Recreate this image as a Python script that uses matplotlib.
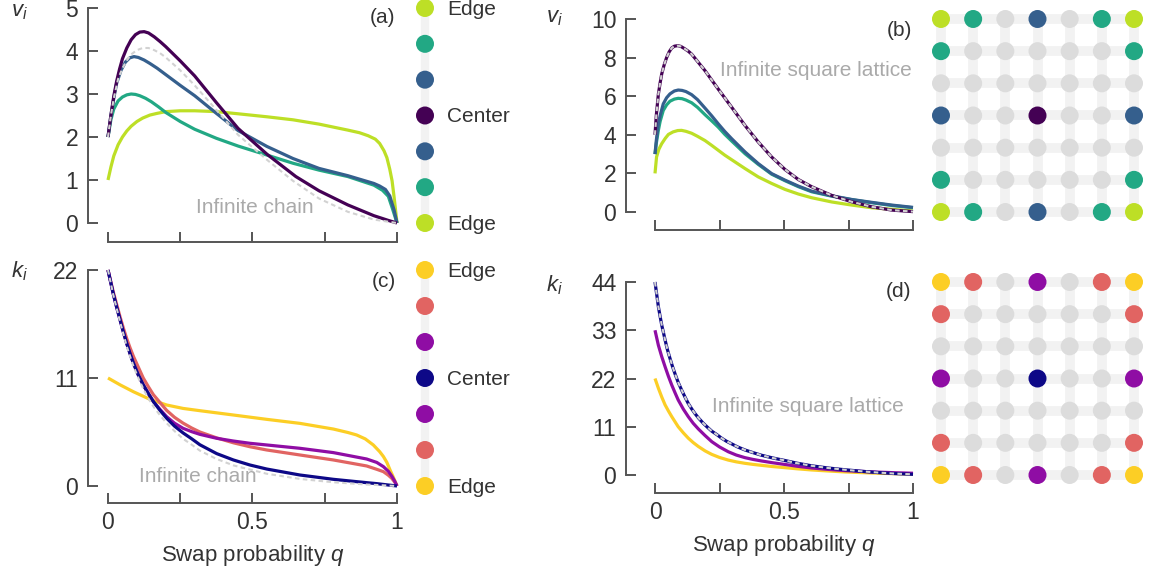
import numpy as np
import matplotlib.pyplot as plt

plt.rcParams['font.family'] = ['Liberation Sans', 'DejaVu Sans']
plt.rcParams['mathtext.fontset'] = 'custom'
plt.rcParams['mathtext.it'] = 'Liberation Sans:italic'
plt.rcParams['mathtext.rm'] = 'Liberation Sans'
plt.rcParams['font.size'] = 15

W, H = 1151, 569

# ---- (a) infinite chain, v_i
qChainCenterV = [0, 0.01, 0.02, 0.03, 0.04, 0.05, 0.065, 0.08, 0.095, 0.11, 0.125, 0.14, 0.16, 0.18, 0.2, 0.25, 0.3, 0.375, 0.45, 0.55, 0.65, 0.73, 0.83, 0.92, 0.97, 1.0]
vChainCenter = [2.0, 2.5, 2.95, 3.3, 3.58, 3.82, 4.07, 4.26, 4.38, 4.44, 4.45, 4.42, 4.33, 4.22, 4.1, 3.77, 3.42, 2.8, 2.2, 1.6, 1.08, 0.75, 0.42, 0.17, 0.06, 0.0]
qChainD1V = [0, 0.01, 0.02, 0.03, 0.045, 0.06, 0.075, 0.09, 0.105, 0.125, 0.145, 0.17, 0.2, 0.25, 0.3, 0.375, 0.45, 0.55, 0.64, 0.73, 0.83, 0.92, 0.94, 0.96, 0.975, 0.99, 1.0]
vChainD1 = [2.0, 2.5, 2.9, 3.25, 3.55, 3.74, 3.84, 3.87, 3.85, 3.79, 3.71, 3.6, 3.45, 3.2, 2.96, 2.55, 2.15, 1.78, 1.5, 1.27, 1.1, 0.92, 0.86, 0.78, 0.63, 0.3, 0.0]
qChainD2V = [0, 0.01, 0.02, 0.035, 0.05, 0.065, 0.08, 0.095, 0.11, 0.13, 0.15, 0.175, 0.2, 0.25, 0.3, 0.375, 0.45, 0.55, 0.64, 0.73, 0.83, 0.92, 0.95, 0.97, 0.985, 1.0]
vChainD2 = [2.0, 2.4, 2.65, 2.84, 2.93, 2.98, 3.0, 2.99, 2.96, 2.9, 2.82, 2.7, 2.57, 2.36, 2.18, 1.97, 1.79, 1.58, 1.39, 1.23, 1.08, 0.88, 0.76, 0.62, 0.32, 0.0]
qChainEdgeV = [0, 0.01, 0.02, 0.035, 0.05, 0.065, 0.08, 0.1, 0.12, 0.145, 0.17, 0.2, 0.25, 0.3, 0.375, 0.45, 0.55, 0.64, 0.73, 0.83, 0.87, 0.9, 0.925, 0.94, 0.955, 0.965, 0.975, 0.983, 0.99, 0.995, 1.0]
vChainEdge = [1.0, 1.3, 1.56, 1.82, 2.0, 2.14, 2.25, 2.36, 2.44, 2.51, 2.55, 2.59, 2.61, 2.61, 2.59, 2.54, 2.47, 2.4, 2.3, 2.16, 2.1, 2.03, 1.95, 1.85, 1.68, 1.52, 1.25, 0.98, 0.6, 0.3, 0.0]
qChainInfV = [0, 0.01, 0.02, 0.035, 0.05, 0.065, 0.08, 0.1, 0.12, 0.14, 0.16, 0.18, 0.2, 0.25, 0.3, 0.375, 0.45, 0.55, 0.64, 0.73, 0.83, 0.92, 1.0]
vChainInf = [2.0, 2.5, 2.9, 3.35, 3.6, 3.78, 3.92, 4.02, 4.07, 4.07, 4.02, 3.95, 3.85, 3.55, 3.2, 2.63, 2.05, 1.47, 0.98, 0.57, 0.26, 0.08, 0.0]

# ---- (b) square lattice, v_i
qLatCenterV = [0, 0.005, 0.013, 0.02, 0.026, 0.035, 0.045, 0.055, 0.065, 0.075, 0.088, 0.1, 0.115, 0.13, 0.142, 0.165, 0.194, 0.245, 0.297, 0.349, 0.4, 0.452, 0.504, 0.556, 0.607, 0.685, 0.762, 0.84, 0.917, 1.0]
vLatCenter = [4.0, 5.0, 6.1, 6.7, 7.15, 7.6, 8.0, 8.3, 8.5, 8.59, 8.62, 8.58, 8.46, 8.32, 8.18, 7.8, 7.32, 6.37, 5.43, 4.48, 3.63, 2.85, 2.2, 1.68, 1.31, 0.86, 0.53, 0.27, 0.1, 0.02]
vLatInf = [4.0, 5.0, 6.1, 6.7, 7.15, 7.6, 8.0, 8.3, 8.5, 8.59, 8.62, 8.58, 8.46, 8.32, 8.18, 7.8, 7.32, 6.37, 5.43, 4.48, 3.63, 2.85, 2.2, 1.68, 1.31, 0.86, 0.53, 0.27, 0.1, 0.02]
qLatMidV = [0, 0.005, 0.013, 0.02, 0.032, 0.045, 0.058, 0.075, 0.09, 0.105, 0.12, 0.142, 0.165, 0.194, 0.22, 0.245, 0.27, 0.297, 0.349, 0.4, 0.452, 0.504, 0.556, 0.607, 0.685, 0.762, 0.84, 0.917, 1.0]
vLatD1 = [3.0, 3.7, 4.57, 5.0, 5.6, 5.92, 6.12, 6.27, 6.32, 6.3, 6.24, 6.08, 5.82, 5.38, 4.98, 4.57, 4.18, 3.8, 3.11, 2.51, 1.99, 1.65, 1.34, 1.08, 0.84, 0.65, 0.5, 0.36, 0.24]
vLatD2 = [3.0, 3.55, 4.23, 4.7, 5.26, 5.55, 5.74, 5.85, 5.89, 5.87, 5.8, 5.66, 5.42, 5.04, 4.72, 4.4, 4.03, 3.68, 3.02, 2.47, 1.96, 1.62, 1.31, 1.05, 0.82, 0.64, 0.48, 0.34, 0.22]
qLatCornerV = [0, 0.006, 0.015, 0.026, 0.04, 0.052, 0.07, 0.088, 0.103, 0.12, 0.142, 0.165, 0.194, 0.22, 0.245, 0.27, 0.297, 0.349, 0.4, 0.452, 0.504, 0.556, 0.607, 0.685, 0.762, 0.84, 0.917, 1.0]
vLatCorner = [2.0, 2.85, 3.25, 3.54, 3.82, 4.02, 4.15, 4.22, 4.23, 4.18, 4.08, 3.92, 3.7, 3.45, 3.2, 2.95, 2.71, 2.25, 1.82, 1.48, 1.17, 0.93, 0.74, 0.52, 0.36, 0.22, 0.14, 0.05]

# ---- (c) infinite chain, k_i
qChainK = [0, 0.009, 0.018, 0.03, 0.042, 0.053, 0.065, 0.076, 0.088, 0.105, 0.122, 0.14, 0.157, 0.18, 0.203, 0.23, 0.26, 0.29, 0.318, 0.376, 0.434, 0.491, 0.549, 0.664, 0.78, 0.895, 0.93, 0.953, 0.97, 0.982, 0.992, 1.0]
kChainCenter = [22.0, 20.8, 19.6, 18.2, 16.9, 15.7, 14.5, 13.5, 12.5, 11.3, 10.3, 9.4, 8.6, 7.7, 6.9, 6.1, 5.4, 4.8, 4.2, 3.3, 2.65, 2.14, 1.73, 1.12, 0.68, 0.34, 0.24, 0.16, 0.1, 0.06, 0.03, 0.0]
kChainD1 = [22.0, 20.8, 19.6, 18.2, 16.9, 15.7, 14.5, 13.5, 12.5, 11.3, 10.3, 9.4, 8.6, 7.8, 7.06, 6.4, 5.87, 5.53, 5.26, 4.86, 4.58, 4.35, 4.18, 3.84, 3.4, 2.75, 2.4, 1.97, 1.5, 1.0, 0.5, 0.0]
kChainD2 = [22.0, 20.9, 19.8, 18.5, 17.2, 16.1, 15.0, 14.1, 13.2, 12.1, 11.0, 10.1, 9.3, 8.5, 7.7, 7.0, 6.4, 5.9, 5.5, 4.9, 4.4, 4.0, 3.67, 3.16, 2.65, 2.04, 1.7, 1.46, 1.1, 0.78, 0.4, 0.0]
qChainEdgeK = [0, 0.042, 0.088, 0.145, 0.203, 0.26, 0.318, 0.434, 0.549, 0.664, 0.78, 0.83, 0.86, 0.89, 0.918, 0.94, 0.953, 0.965, 0.976, 0.988, 1.0]
kChainEdge = [11.0, 10.3, 9.6, 8.83, 8.25, 7.9, 7.67, 7.23, 6.79, 6.38, 5.8, 5.45, 5.2, 4.8, 4.18, 3.5, 3.0, 2.4, 1.63, 0.85, 0.0]
qChainInfK = [0, 0.018, 0.042, 0.065, 0.088, 0.105, 0.122, 0.14, 0.157, 0.18, 0.203, 0.23, 0.26, 0.29, 0.318, 0.376, 0.434, 0.549, 0.664, 0.78, 0.895, 1.0]
kChainInf = [22.0, 19.5, 16.7, 14.2, 12.2, 11.0, 9.9, 8.9, 8.1, 7.2, 6.4, 5.6, 4.8, 4.2, 3.6, 2.75, 2.1, 1.25, 0.72, 0.38, 0.15, 0.0]

# ---- (d) square lattice, k_i
qLatCenterK = [0, 0.007, 0.013, 0.02, 0.026, 0.033, 0.039, 0.048, 0.058, 0.068, 0.078, 0.09, 0.103, 0.116, 0.129, 0.142, 0.155, 0.17, 0.187, 0.203, 0.22, 0.24, 0.258, 0.277, 0.297, 0.32, 0.349, 0.38, 0.413, 0.455, 0.504, 0.55, 0.607, 0.67, 0.736, 0.8, 0.866, 0.93, 1.0]
kLatCenter = [44.0, 41.0, 38.4, 36.1, 34.2, 32.4, 30.8, 28.6, 26.6, 24.7, 23.0, 21.1, 19.4, 17.8, 16.3, 15.1, 14.0, 12.9, 11.8, 10.9, 10.0, 9.2, 8.4, 7.7, 7.1, 6.4, 5.7, 5.1, 4.5, 3.9, 3.3, 2.7, 2.1, 1.6, 1.2, 0.85, 0.55, 0.32, 0.15]
kLatInf = [44.0, 41.0, 38.4, 36.1, 34.2, 32.4, 30.8, 28.6, 26.6, 24.7, 23.0, 21.1, 19.4, 17.8, 16.3, 15.1, 14.0, 12.9, 11.8, 10.9, 10.0, 9.2, 8.4, 7.7, 7.1, 6.4, 5.7, 5.1, 4.5, 3.9, 3.3, 2.7, 2.1, 1.6, 1.2, 0.85, 0.55, 0.32, 0.15]
qLatOtherK = [0, 0.013, 0.026, 0.039, 0.052, 0.065, 0.078, 0.09, 0.11, 0.129, 0.148, 0.168, 0.194, 0.22, 0.25, 0.284, 0.315, 0.349, 0.38, 0.413, 0.455, 0.504, 0.55, 0.607, 0.67, 0.736, 0.8, 0.866, 0.93, 1.0]
kLatD1 = [33.0, 29.6, 27.0, 24.7, 22.5, 20.5, 18.7, 17.1, 15.0, 13.3, 11.8, 10.5, 9.0, 7.6, 6.4, 5.3, 4.55, 3.95, 3.55, 3.2, 2.8, 2.4, 2.0, 1.6, 1.28, 1.0, 0.82, 0.65, 0.52, 0.4]
kLatCorner = [22.0, 19.8, 17.8, 16.0, 14.6, 13.3, 12.1, 11.0, 9.6, 8.4, 7.4, 6.5, 5.5, 4.7, 4.0, 3.4, 3.0, 2.66, 2.42, 2.2, 1.93, 1.67, 1.42, 1.15, 0.92, 0.7, 0.55, 0.4, 0.3, 0.2]

# node classes: 0 center, 1, 2, 3 edge/corner, -1 plain
chainClasses = [3, 2, 1, 0, 1, 2, 3]
chainNames = ['Edge', '', '', 'Center', '', '', 'Edge']
latticeClasses = [
	[3, 2, -1, 1, -1, 2, 3],
	[2, -1, -1, -1, -1, -1, 2],
	[-1, -1, -1, -1, -1, -1, -1],
	[1, -1, -1, 0, -1, -1, 1],
	[-1, -1, -1, -1, -1, -1, -1],
	[2, -1, -1, -1, -1, -1, 2],
	[3, 2, -1, 1, -1, 2, 3],
]

viridis = plt.get_cmap('viridis')
plasma = plt.get_cmap('plasma')
vColors = [viridis(0.0), viridis(0.3), viridis(0.6), viridis(0.9)]
kColors = [plasma(0.0), plasma(0.3), plasma(0.6), plasma(0.9)]

spineColor = '#555555'
textColor = '#333333'
softGray = '#aaaaaa'
dashColor = '#d2d2d2'
nodeGray = '#dcdcdc'
barGray = '#f2f2f2'
lw = 2.3


def box(left, top, right, bottom):
	return [left / W, 1 - bottom / H, (right - left) / W, (bottom - top) / H]


def styleAxes(ax, ymax, yticks, leftOff, bottomOff, showX):
	ax.set_xlim(0, 1)
	ax.set_ylim(0, ymax)
	ax.patch.set_visible(False)
	for s in ['top', 'right']:
		ax.spines[s].set_visible(False)
	ax.spines['left'].set_position(('outward', leftOff))
	ax.spines['bottom'].set_position(('outward', bottomOff))
	for s in ['left', 'bottom']:
		ax.spines[s].set_linewidth(1.4)
		ax.spines[s].set_color(spineColor)
	ax.set_xticks([0, 0.25, 0.5, 0.75, 1])
	if showX:
		ax.set_xticklabels(['0', '', '0.5', '', '1'])
		ax.set_xlabel('Swap probability $q$', color=textColor, fontsize=16, labelpad=6)
	else:
		ax.set_xticklabels([])
	ax.set_yticks(yticks)
	ax.set_yticklabels([str(t) for t in yticks])
	ax.tick_params(direction='in', length=7, width=1.4, color=spineColor, labelcolor=textColor, labelsize=16.5)
	ax.tick_params(axis='y', pad=7)
	ax.tick_params(axis='x', pad=6)


def curve(ax, q, y, color, z):
	ax.plot(q, y, color=color, lw=lw, solid_capstyle='butt', solid_joinstyle='round', clip_on=False, zorder=z)


def dashed(ax, q, y):
	ax.plot(q, y, color=dashColor, lw=1.5, dashes=(2.2, 1.6), clip_on=False, zorder=10)


def drawChain(rect, colors):
	ax = fig.add_axes(rect)
	ax.set_xlim(-1, 1)
	ax.set_ylim(0, 6)
	ax.axis('off')
	n = len(chainClasses)
	ys = [n - 1 - i for i in range(n)]
	ax.plot([0, 0], [0, n - 1], color=barGray, lw=6, solid_capstyle='butt', zorder=1, clip_on=False)
	ax.scatter([0] * n, ys, s=168, c=[colors[c] for c in chainClasses], lw=0, zorder=2, clip_on=False)
	for y, name in zip(ys, chainNames):
		if name:
			# baseline placed so the capitals sit centred on the dot
			ax.text(2.2, y - 0.19, name, ha='left', va='baseline', color=textColor, fontsize=15, clip_on=False)


def drawLattice(rect, colors):
	ax = fig.add_axes(rect)
	ax.set_xlim(-0.5, 6.5)
	ax.set_ylim(6.5, -0.5)
	ax.axis('off')
	for i in range(7):
		ax.plot([0, 6], [i, i], color=barGray, lw=7, solid_capstyle='butt', zorder=1)
		ax.plot([i, i], [0, 6], color=barGray, lw=7, solid_capstyle='butt', zorder=1)
	xs, ys, cs = [], [], []
	for r, row in enumerate(latticeClasses):
		for c, cls in enumerate(row):
			xs.append(c)
			ys.append(r)
			cs.append(nodeGray if cls < 0 else colors[cls])
	ax.scatter(xs, ys, s=168, c=cs, lw=0, zorder=2, clip_on=False)


fig = plt.figure(figsize=(W / 100, H / 100), dpi=100)

# (a)
axA = fig.add_axes(box(108, 8, 397, 223))
styleAxes(axA, 5, [0, 1, 2, 3, 4, 5], 14.4, 13.7, False)
curve(axA, qChainEdgeV, vChainEdge, vColors[3], 3)
curve(axA, qChainD2V, vChainD2, vColors[2], 4)
curve(axA, qChainD1V, vChainD1, vColors[1], 5)
curve(axA, qChainCenterV, vChainCenter, vColors[0], 6)
dashed(axA, qChainInfV, vChainInf)
axA.text(0.509, 0.365, 'Infinite chain', ha='center', va='center', color=softGray, fontsize=15)
axA.text(0.995, 0.955, '(a)', transform=axA.transAxes, ha='right', va='center', color=textColor, fontsize=15)

# (b)
axB = fig.add_axes(box(655, 19, 913, 212))
styleAxes(axB, 10, [0, 2, 4, 6, 8, 10], 20.9, 13.0, False)
curve(axB, qLatCornerV, vLatCorner, vColors[3], 3)
curve(axB, qLatMidV, vLatD2, vColors[2], 4)
curve(axB, qLatMidV, vLatD1, vColors[1], 5)
curve(axB, qLatCenterV, vLatCenter, vColors[0], 6)
dashed(axB, qLatCenterV, vLatInf)
axB.text(0.995, 7.32, 'Infinite square lattice', ha='right', va='center', color=softGray, fontsize=15)
axB.text(0.995, 0.943, '(b)', transform=axB.transAxes, ha='right', va='center', color=textColor, fontsize=15)

# (c)
axC = fig.add_axes(box(108, 270, 397, 486))
styleAxes(axC, 22, [0, 11, 22], 14.4, 12.3, True)
curve(axC, qChainEdgeK, kChainEdge, kColors[3], 3)
curve(axC, qChainK, kChainD2, kColors[2], 4)
curve(axC, qChainK, kChainD1, kColors[1], 5)
curve(axC, qChainK, kChainCenter, kColors[0], 6)
dashed(axC, qChainInfK, kChainInf)
axC.text(0.31, 0.95, 'Infinite chain', ha='center', va='center', color=softGray, fontsize=15)
axC.text(0.995, 0.946, '(c)', transform=axC.transAxes, ha='right', va='center', color=textColor, fontsize=15)

# (d)
axD = fig.add_axes(box(655, 282, 913, 475))
styleAxes(axD, 44, [0, 11, 22, 33, 44], 20.9, 13.0, True)
curve(axD, qLatOtherK, kLatCorner, kColors[3], 3)
curve(axD, qLatOtherK, kLatD1, kColors[1], 5)
curve(axD, qLatCenterK, kLatCenter, kColors[0], 6)
dashed(axD, qLatCenterK, kLatInf)
axD.text(0.966, 15.6, 'Infinite square lattice', ha='right', va='center', color=softGray, fontsize=15)
axD.text(0.995, 0.95, '(d)', transform=axD.transAxes, ha='right', va='center', color=textColor, fontsize=15)

# variable labels
fig.text(11 / W, 1 - 12 / H, '$v_i$', ha='left', va='center', color=textColor, fontsize=16)
fig.text(546 / W, 1 - 18 / H, '$v_i$', ha='left', va='center', color=textColor, fontsize=16)
fig.text(11 / W, 1 - 271 / H, '$k_i$', ha='left', va='center', color=textColor, fontsize=16)
fig.text(546 / W, 1 - 285 / H, '$k_i$', ha='left', va='center', color=textColor, fontsize=16)

# node schematics
drawChain(box(415, 8, 435, 223), vColors)
drawChain(box(415, 270, 435, 486), kColors)
drawLattice(box(924.9, 2.9, 1150.1, 228.1), vColors)
drawLattice(box(924.9, 265.9, 1150.1, 491.1), kColors)

fig.savefig('out.png', dpi=100)
